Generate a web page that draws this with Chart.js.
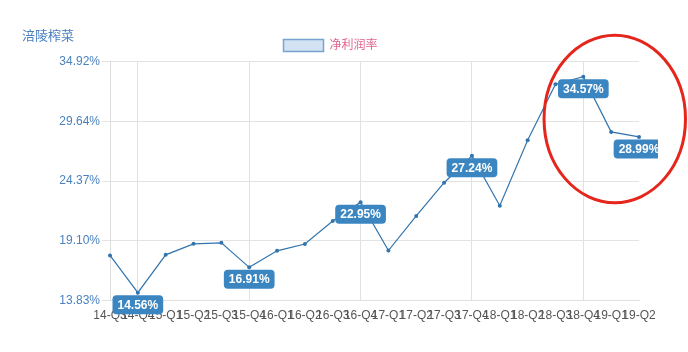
<!DOCTYPE html>
<html><head><meta charset="utf-8">
<script src="https://cdn.jsdelivr.net/npm/chart.js@4/dist/chart.umd.min.js"></script>
<style>html,body{margin:0;padding:0;background:#fff}#wrap{width:688px;height:352px}</style>
</head><body><div id="wrap"><canvas id="c" width="688" height="352"></canvas></div>
<script>
const chartTitle = '涪陵榨菜';
const seriesName = '净利润率';
const categories = ['14-Q3','14-Q4','15-Q1','15-Q2','15-Q3','15-Q4','16-Q1','16-Q2','16-Q3','16-Q4','17-Q1','17-Q2','17-Q3','17-Q4','18-Q1','18-Q2','18-Q3','18-Q4','19-Q1','19-Q2'];
const netMargin = [18.01,14.56,18.07,19.09,19.18,16.91,18.44,19.07,21.21,22.95,18.47,21.67,24.75,27.24,22.62,28.69,33.87,34.57,29.46,28.99];
const labelledPoints = [1,5,9,13,17,19];
const yTickLabels = ['13.83%','19.10%','24.37%','29.64%','34.92%'];
const yRange = [13.83, 35.97];
// red hand-drawn highlight around the last quarters (category index / value units)
const highlightCenterIndex = 18.13;
const highlightCenterValue = 30.66;
const highlightHalfWidthSteps = 2.54;
const highlightHalfHeightValue = 7.76;

Chart.defaults.font.family = '"Liberation Sans", Arial, "Noto Sans CJK SC", sans-serif';

const pointLabelPlugin = {
  id: 'pointLabels',
  afterDatasetsDraw(chart) {
    const meta = chart.getDatasetMeta(0);
    const ctx = chart.ctx;
    ctx.save();
    ctx.beginPath();
    ctx.rect(0, 0, chart.chartArea.right + 19, chart.height);
    ctx.clip();
    ctx.font = 'bold 12px "Liberation Sans", Arial, sans-serif';
    labelledPoints.forEach(i => {
      const el = meta.data[i];
      const text = netMargin[i].toFixed(2) + '%';
      const w = ctx.measureText(text).width + 10;
      const h = 19;
      const x = el.x - w / 2, y = el.y + 2.5;
      ctx.fillStyle = '#3b86c1';
      ctx.beginPath();
      ctx.roundRect(x, y, w, h, 4);
      ctx.fill();
      ctx.fillStyle = '#ffffff';
      ctx.textAlign = 'center';
      ctx.textBaseline = 'middle';
      ctx.fillText(text, el.x, y + h / 2 + 0.5);
    });
    ctx.restore();
  }
};

const highlightPlugin = {
  id: 'highlight',
  afterDraw(chart) {
    const xs = chart.scales.x, ys = chart.scales.y;
    const step = xs.getPixelForValue(1) - xs.getPixelForValue(0);
    const cx = xs.getPixelForValue(highlightCenterIndex);
    const cy = ys.getPixelForValue(highlightCenterValue);
    const rx = highlightHalfWidthSteps * step;
    const ry = Math.abs(ys.getPixelForValue(highlightCenterValue + highlightHalfHeightValue) - cy);
    const ctx = chart.ctx;
    ctx.save();
    ctx.strokeStyle = '#e4261c';
    ctx.lineWidth = 3;
    ctx.beginPath();
    ctx.ellipse(cx, cy, rx, ry, 0, 0, Math.PI * 2);
    ctx.stroke();
    ctx.restore();
  }
};

new Chart(document.getElementById('c'), {
  type: 'line',
  data: {
    labels: categories,
    datasets: [{
      label: seriesName,
      data: netMargin,
      borderColor: '#3274ad',
      backgroundColor: '#d3e3f3',
      borderWidth: 1.2,
      pointRadius: 2,
      pointBackgroundColor: '#3274ad',
      pointBorderWidth: 0,
      tension: 0,
      fill: false
    }]
  },
  options: {
    responsive: false,
    animation: false,
    devicePixelRatio: 1,
    layout: { padding: { left: 22, right: 49, top: 0, bottom: 21 } },
    plugins: {
      title: {
        display: true, text: chartTitle, align: 'start', color: '#4a80c2',
        font: { size: 13, weight: 'normal' }, padding: { top: 29, bottom: -9 }
      },
      legend: {
        labels: {
          boxWidth: 40, boxHeight: 12, color: '#e0648c', font: { size: 12 }, padding: 4,
          generateLabels: (chart) => Chart.defaults.plugins.legend.labels.generateLabels(chart)
            .map(l => Object.assign(l, { strokeStyle: '#76a3d0', lineWidth: 1.5, fillStyle: '#d3e3f3' }))
        }
      },
      tooltip: { enabled: false }
    },
    scales: {
      x: {
        offset: false,
        ticks: { autoSkip: false, maxRotation: 0, minRotation: 0, color: '#555', font: { size: 12 }, padding: 8 },
        grid: { drawTicks: false, color: (c) => (c.index % 4 === 1 ? '#e1e1e1' : 'rgba(0,0,0,0)') },
        border: { display: true, color: '#e1e1e1' }
      },
      y: {
        min: yRange[0], max: yRange[1],
        afterBuildTicks(scale) {
          const n = yTickLabels.length;
          scale.ticks = yTickLabels.map((_, k) => ({ value: yRange[0] + k * (yRange[1] - yRange[0]) / (n - 1) }));
        },
        afterFit(scale) { scale.width = 88; },
        ticks: { callback: (v, i) => yTickLabels[i], color: '#4a82bf', font: { size: 12 }, padding: 2 },
        grid: { color: '#e3e3e3', tickLength: 8 },
        border: { display: true, color: '#dcdcdc' }
      }
    }
  },
  plugins: [pointLabelPlugin, highlightPlugin]
});
</script></body></html>
